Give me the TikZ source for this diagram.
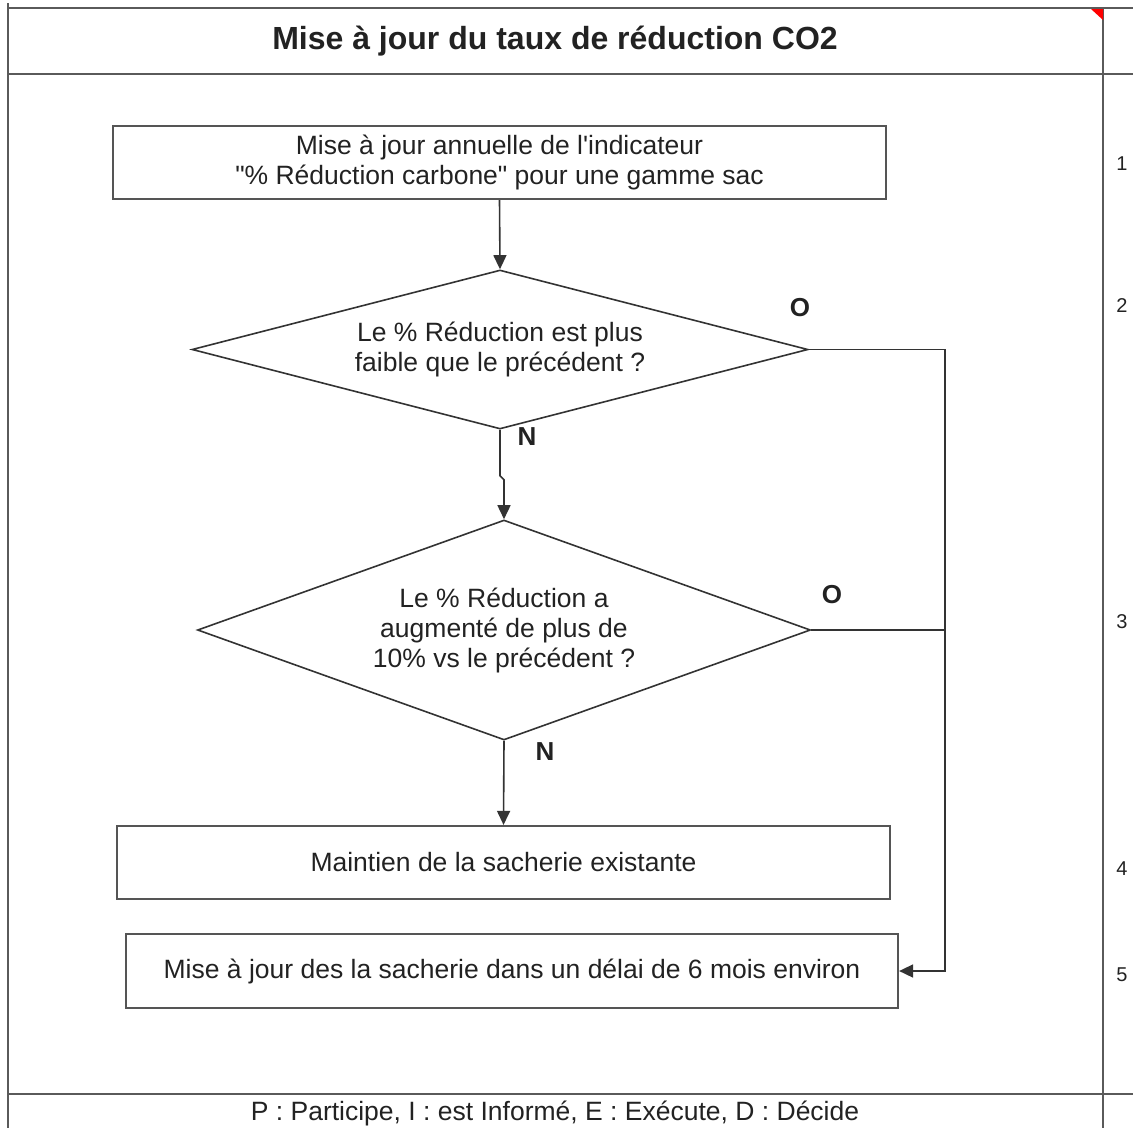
\documentclass[tikz,border=0pt]{standalone}
\usepackage{fontspec}
\setmainfont{Liberation Sans}[Ligatures=TeXOff]
\usetikzlibrary{shapes.geometric,arrows.meta}
\definecolor{ink}{HTML}{222222}
\definecolor{framec}{HTML}{5A5A5A}
\definecolor{boxc}{HTML}{555555}
\definecolor{connc}{HTML}{333333}
\tikzset{
  frameline/.style={draw=framec,line width=2.5pt},
  procbox/.style={draw=boxc,line width=2.2pt,rectangle,inner sep=0pt,align=center,text=ink,
    font=\fontsize{26.5}{30}\selectfont},
  decbox/.style={draw=connc,line width=1.6pt,diamond,inner sep=0pt,align=center,text=ink,
    font=\fontsize{26.5}{30}\selectfont},
  conn/.style={draw=connc,line width=1.6pt},
  arrowconn/.style={conn,-{Triangle[length=14pt,width=13pt]}},
  yesno/.style={text=ink,font=\fontsize{26}{30}\selectfont\bfseries,inner sep=0pt},
  rownum/.style={text=ink,font=\fontsize{20}{24}\selectfont,inner sep=0pt},
}
\begin{document}
\begin{tikzpicture}[x=1pt,y=-1pt]
\useasboundingbox (0,0) rectangle (1133,1128);
% frame
\draw[frameline] (8,8) -- (1133,8);
\draw[frameline] (8,74) -- (1133,74);
\draw[frameline] (8,1094) -- (1133,1094);
\draw[frameline] (8,3) -- (8,1128);
\draw[frameline] (1103,8) -- (1103,1128);
\fill[red] (1091,9) -- (1103,9) -- (1103,20) -- cycle;
\node[text=ink,font=\fontsize{32}{36}\selectfont\bfseries,inner sep=0pt] (title) at (555,41) {Mise à jour du taux de réduction CO2};
\node[text=ink,font=\fontsize{26.5}{30}\selectfont,inner sep=0pt] (legend) at (555,1113) {P : Participe, I : est Informé, E : Exécute, D : Décide};
% row numbers
\node[rownum] (n1) at (1122,164) {1};
\node[rownum] (n2) at (1122,306) {2};
\node[rownum] (n3) at (1122,622) {3};
\node[rownum] (n4) at (1122,869) {4};
\node[rownum] (n5) at (1122,975) {5};
% nodes
\node[procbox,minimum width=773pt,minimum height=73pt] (b1) at (499.5,162.5)
  {Mise à jour annuelle de l'indicateur\\"\% Réduction carbone" pour une gamme sac};
\node[decbox,aspect=3.9,minimum width=616pt,minimum height=159pt] (d1) at (500,349.5)
  {Le \% Réduction est plus\\faible que le précédent ?};
\node[decbox,aspect=2.8,minimum width=613pt,minimum height=220pt] (d2) at (504,630)
  {Le \% Réduction a\\augmenté de plus de\\10\% vs le précédent ?};
\node[procbox,minimum width=773pt,minimum height=73pt] (b4) at (503.5,862.5)
  {Maintien de la sacherie existante};
\node[procbox,minimum width=772pt,minimum height=74pt] (b5) at (512,971)
  {Mise à jour des la sacherie dans un délai de 6 mois environ};
% labels
\node[yesno] (o1) at (800,308) {O};
\node[yesno] (o2) at (832,595) {O};
\node[yesno] (nn1) at (527,437) {N};
\node[yesno] (nn2) at (545,752) {N};
% connectors
\coordinate (j1) at (945,349.5);
\coordinate (j2) at (945,630);
\draw[arrowconn] (b1.south) -- (d1.north);
\draw[arrowconn] (d1.south) -- ++(0,46) -- ++(4,4) -- (d2.north);
\draw[arrowconn] (d2.south) -- (b4.north);
\draw[conn] (d1.east) -- (j1) -- (j2);
\draw[conn] (d2.east) -- (j2);
\draw[arrowconn] (j2) |- (b5.east);
\end{tikzpicture}
\end{document}
